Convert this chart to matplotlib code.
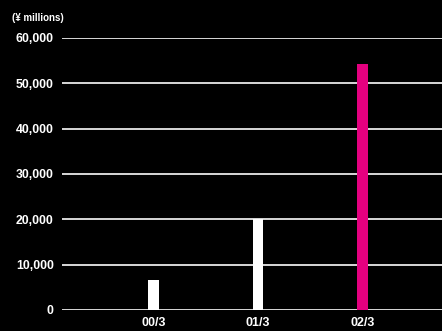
import matplotlib.pyplot as plt

periods = ['00/3', '01/3', '02/3']
values = [6600, 20100, 54300]
bar_colors = ['#ffffff', '#ffffff', '#e4007f']
yticks = [0, 10000, 20000, 30000, 40000, 50000, 60000]

plt.rcParams['font.family'] = ['Liberation Sans', 'DejaVu Sans']

fig = plt.figure(figsize=(4.42, 3.31), dpi=100, facecolor='black')
ax = fig.add_axes([62 / 442, 21 / 331, 380 / 442, 272 / 331])
ax.set_facecolor('black')

# horizontal guide lines behind the bars
for v in yticks:
    ax.axhline(v, color='#d8d8d8', lw=1.4, zorder=1)

x = list(range(len(periods)))
ax.bar(x, values, width=0.105, color=bar_colors, zorder=2)

ax.set_xlim(-0.876, 2.761)
ax.set_ylim(0, 60000)
ax.set_yticks(yticks)
ax.set_yticklabels(['{:,}'.format(v) for v in yticks])
ax.set_xticks(x)
ax.set_xticklabels(periods)
ax.tick_params(axis='y', length=0, colors='white', labelsize=8.8, pad=6)
ax.tick_params(axis='x', length=0, colors='white', labelsize=9, pad=5)
for lab in ax.get_xticklabels() + ax.get_yticklabels():
    lab.set_fontweight('bold')
for s in ax.spines.values():
    s.set_visible(False)

fig.text(12 / 442, 1 - 18 / 331, '(¥ millions)', color='white', fontsize=7,
         fontweight='bold', va='center', ha='left')

fig.savefig('out.png', facecolor='black')
